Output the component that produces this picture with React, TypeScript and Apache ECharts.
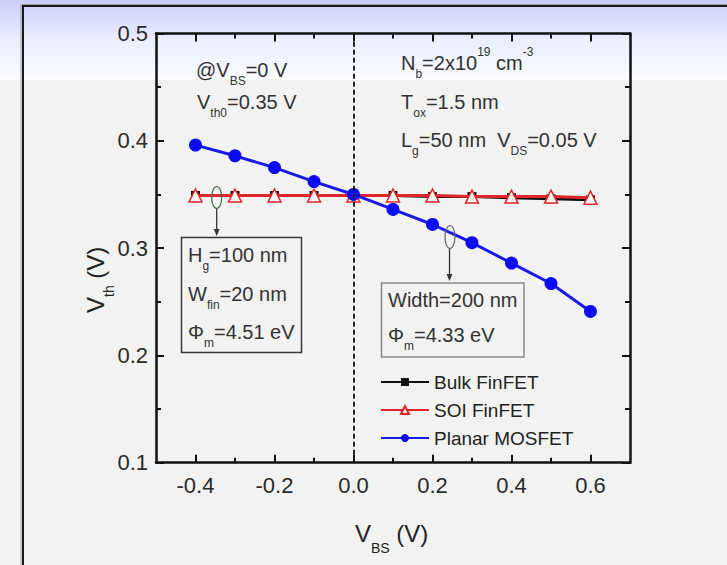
import React, { useEffect, useRef } from 'react';
import * as echarts from 'echarts';

// ---- data ----
const vbs = [-0.4, -0.3, -0.2, -0.1, 0.0, 0.1, 0.2, 0.3, 0.4, 0.5, 0.6];
const bulkFinFET = [0.349, 0.349, 0.349, 0.349, 0.349, 0.349, 0.348, 0.348, 0.347, 0.346, 0.345];
const soiFinFET = [0.349, 0.349, 0.349, 0.349, 0.349, 0.349, 0.349, 0.348, 0.348, 0.348, 0.347];
const planarMOSFET = [0.396, 0.386, 0.375, 0.362, 0.35, 0.336, 0.322, 0.305, 0.286, 0.267, 0.241];
const seriesNames = ['Bulk FinFET', 'SOI FinFET', 'Planar MOSFET'];
const xMajorTicks = [-0.4, -0.2, 0.0, 0.2, 0.4, 0.6];
const xMinorTicks = [-0.3, -0.1, 0.1, 0.3, 0.5];
const yTickLabels = ['0.1', '0.2', '0.3', '0.4', '0.5'];

const FONT = "'Liberation Sans', Arial, sans-serif";

type Seg = { t: string; k?: 'sub' | 'sup' };

let ctx: CanvasRenderingContext2D | null = null;
function measure(t: string, fs: number): number {
  if (!ctx) ctx = document.createElement('canvas').getContext('2d');
  ctx!.font = `${fs}px ${FONT}`;
  return ctx!.measureText(t).width;
}

function richLine(
  x0: number,
  y0: number,
  segs: Seg[],
  main: number,
  small: number,
  subDy: number,
  supDy: number,
  color: string
): any[] {
  let x = x0;
  const els: any[] = [];
  for (const s of segs) {
    const fs = s.k ? small : main;
    const dy = s.k === 'sub' ? subDy : s.k === 'sup' ? supDy : 0;
    els.push({
      type: 'text',
      x,
      y: y0 + dy,
      style: {
        text: s.t,
        fontSize: fs,
        fontFamily: FONT,
        fill: color,
        align: 'left',
        verticalAlign: 'middle',
      },
    });
    x += measure(s.t, fs);
  }
  return els;
}

const ANN = '#333333';

function buildGraphic(): any[] {
  const g: any[] = [];
  // header gradient band
  g.push({
    type: 'rect',
    z: -100,
    shape: { x: 0, y: 0, width: 727, height: 80 },
    style: {
      fill: new echarts.graphic.LinearGradient(0, 0, 0, 1, [
        { offset: 0, color: '#cdcdfb' },
        { offset: 0.5, color: '#eaeefe' },
        { offset: 1, color: '#fbfbff' },
      ]),
    },
  });
  // frame
  g.push({
    type: 'rect',
    z: -50,
    shape: { x: 21, y: 4.5, width: 800, height: 700 },
    style: { fill: 'none', stroke: '#9a9a9a', lineWidth: 1 },
  });
  g.push({
    type: 'rect',
    z: -50,
    shape: { x: 23, y: 6, width: 800, height: 700 },
    style: { fill: 'none', stroke: '#1a1a1a', lineWidth: 2 },
  });

  // annotations top-left
  g.push(
    ...richLine(196, 70, [{ t: '@V' }, { t: 'BS', k: 'sub' }, { t: '=0 V' }], 20, 12, 11, -10, ANN)
  );
  g.push(
    ...richLine(197, 102, [{ t: 'V' }, { t: 'th0', k: 'sub' }, { t: '=0.35 V' }], 20, 12, 11, -10, ANN)
  );
  // top-right
  g.push(
    ...richLine(
      401,
      63,
      [{ t: 'N' }, { t: 'b', k: 'sub' }, { t: '=2x10' }, { t: '19', k: 'sup' }, { t: ' cm' }, { t: '-3', k: 'sup' }],
      20,
      12,
      11,
      -11,
      ANN
    )
  );
  g.push(...richLine(401, 102, [{ t: 'T' }, { t: 'ox', k: 'sub' }, { t: '=1.5 nm' }], 20, 12, 11, -10, ANN));
  g.push(
    ...richLine(
      401,
      140,
      [{ t: 'L' }, { t: 'g', k: 'sub' }, { t: '=50 nm  V' }, { t: 'DS', k: 'sub' }, { t: '=0.05 V' }],
      20,
      12,
      11,
      -10,
      ANN
    )
  );

  // box 1
  g.push({
    type: 'rect',
    shape: { x: 181.5, y: 237.5, width: 120, height: 115 },
    style: { fill: 'none', stroke: '#3a3a3a', lineWidth: 1.5 },
  });
  g.push(...richLine(188, 255, [{ t: 'H' }, { t: 'g', k: 'sub' }, { t: '=100 nm' }], 20, 12, 11, -10, ANN));
  g.push(...richLine(188, 294, [{ t: 'W' }, { t: 'fin', k: 'sub' }, { t: '=20 nm' }], 20, 12, 11, -10, ANN));
  g.push(...richLine(188, 332, [{ t: 'Φ' }, { t: 'm', k: 'sub' }, { t: '=4.51 eV' }], 20, 12, 11, -10, ANN));

  // box 2
  g.push({
    type: 'rect',
    shape: { x: 381.5, y: 283, width: 142.5, height: 74 },
    style: { fill: 'none', stroke: '#8a8a8a', lineWidth: 1.5 },
  });
  g.push(...richLine(388, 300, [{ t: 'Width=200 nm' }], 20, 12, 11, -10, ANN));
  g.push(...richLine(388, 335, [{ t: 'Φ' }, { t: 'm', k: 'sub' }, { t: '=4.33 eV' }], 20, 12, 11, -10, ANN));

  // ellipses + arrows
  g.push({
    type: 'ellipse',
    z: 20,
    shape: { cx: 216.7, cy: 197.5, rx: 5, ry: 11 },
    style: { fill: 'none', stroke: '#3f6e3f', lineWidth: 1.2 },
  });
  g.push({
    type: 'line',
    shape: { x1: 216.7, y1: 208.5, x2: 216.7, y2: 230 },
    style: { stroke: '#333', lineWidth: 1.3 },
  });
  g.push({
    type: 'polygon',
    shape: { points: [[213.7, 229], [219.7, 229], [216.7, 236]] },
    style: { fill: '#333' },
  });
  g.push({
    type: 'ellipse',
    z: 20,
    shape: { cx: 450, cy: 237, rx: 5, ry: 11.5 },
    style: { fill: 'none', stroke: '#666', lineWidth: 1.2 },
  });
  g.push({
    type: 'line',
    shape: { x1: 449.5, y1: 248.5, x2: 449.5, y2: 275 },
    style: { stroke: '#333', lineWidth: 1.3 },
  });
  g.push({
    type: 'polygon',
    shape: { points: [[446.5, 274], [452.5, 274], [449.5, 281]] },
    style: { fill: '#333' },
  });

  // x axis title
  g.push(...richLine(355, 533, [{ t: 'V' }, { t: 'BS', k: 'sub' }, { t: ' (V)' }], 24, 14, 15, -10, '#222'));
  // y axis title (rotated)
  g.push({
    type: 'group',
    x: 95.5,
    y: 313,
    rotation: Math.PI / 2,
    children: richLine(0, 0, [{ t: 'V' }, { t: 'th', k: 'sub' }, { t: ' (V)' }], 24, 14, 13, -10, '#222'),
  });
  return g;
}

const AX = '#111';

export default function App() {
  const ref = useRef<HTMLDivElement>(null);
  useEffect(() => {
    if (!ref.current) return;
    const chart = echarts.init(ref.current, undefined, { renderer: 'svg' });
    const pts = (ys: number[]) => vbs.map((x, i) => [x, ys[i]]);
    const baseX = {
      type: 'value',
      min: -0.5,
      max: 0.7,
      splitLine: { show: false },
    };
    chart.setOption({
      animation: false,
      backgroundColor: '#f2f2f2',
      textStyle: { fontFamily: FONT },
      grid: { left: 156, right: 97, top: 33.5, bottom: 102.3, containLabel: false },
      legend: {
        data: seriesNames,
        orient: 'vertical',
        left: 380,
        top: 372,
        itemWidth: 48,
        itemHeight: 10,
        itemGap: 8,
        padding: 0,
        textStyle: { fontSize: 19, fontFamily: FONT, color: '#222', lineHeight: 20 },
      },
      xAxis: [
        {
          ...baseX,
          position: 'bottom',
          axisLine: { show: true, onZero: false, lineStyle: { color: AX, width: 2.5 } },
          axisTick: { show: true, inside: true, length: 8, customValues: xMajorTicks, lineStyle: { color: AX, width: 2 } },
          axisLabel: {
            show: true,
            customValues: xMajorTicks,
            margin: 12,
            fontSize: 22,
            fontFamily: FONT,
            color: '#2a2a2a',
            formatter: (v: number) => v.toFixed(1),
          },
        },
        {
          ...baseX,
          position: 'bottom',
          axisLine: { show: false, onZero: false },
          axisTick: { show: true, inside: true, length: 5, customValues: xMinorTicks, lineStyle: { color: AX, width: 2 } },
          axisLabel: { show: false },
        },
        {
          ...baseX,
          position: 'top',
          axisLine: { show: true, onZero: false, lineStyle: { color: AX, width: 2.5 } },
          axisTick: { show: true, inside: true, length: 8, customValues: xMajorTicks, lineStyle: { color: AX, width: 2 } },
          axisLabel: { show: false },
        },
        {
          ...baseX,
          position: 'top',
          axisLine: { show: false, onZero: false },
          axisTick: { show: true, inside: true, length: 5, customValues: xMinorTicks, lineStyle: { color: AX, width: 2 } },
          axisLabel: { show: false },
        },
      ],
      yAxis: [
        {
          type: 'value',
          min: 0.1,
          max: 0.5,
          interval: 0.1,
          position: 'left',
          splitLine: { show: false },
          axisLine: { show: true, onZero: false, lineStyle: { color: AX, width: 2.5 } },
          axisTick: { show: true, inside: true, length: 8, lineStyle: { color: AX, width: 2 } },
          minorTick: { show: true, splitNumber: 2, length: 5, lineStyle: { color: AX, width: 2 } },
          axisLabel: {
            margin: 8,
            fontSize: 22,
            fontFamily: FONT,
            color: '#2a2a2a',
            formatter: (v: number) => {
              const s = v.toFixed(1);
              return yTickLabels.includes(s) ? s : '';
            },
          },
        },
        {
          type: 'value',
          min: 0.1,
          max: 0.5,
          interval: 0.1,
          position: 'right',
          splitLine: { show: false },
          axisLine: { show: true, onZero: false, lineStyle: { color: AX, width: 2.5 } },
          axisTick: { show: true, inside: true, length: 8, lineStyle: { color: AX, width: 2 } },
          minorTick: { show: true, splitNumber: 2, length: 5, lineStyle: { color: AX, width: 2 } },
          axisLabel: { show: false },
        },
      ],
      series: [
        {
          name: seriesNames[0],
          type: 'line',
          xAxisIndex: 0,
          yAxisIndex: 0,
          data: pts(bulkFinFET),
          symbol: 'rect',
          symbolSize: 9,
          itemStyle: { color: '#111' },
          lineStyle: { color: '#111', width: 3 },
          z: 2,
        },
        {
          name: seriesNames[1],
          type: 'line',
          xAxisIndex: 0,
          yAxisIndex: 0,
          data: pts(soiFinFET),
          symbol: 'triangle',
          symbolSize: 13,
          itemStyle: { color: '#fff6f2', borderColor: '#e0262a', borderWidth: 1.5 },
          lineStyle: { color: '#e0262a', width: 3 },
          z: 3,
        },
        {
          name: seriesNames[2],
          type: 'line',
          xAxisIndex: 0,
          yAxisIndex: 0,
          data: pts(planarMOSFET),
          symbol: 'circle',
          symbolSize: 13,
          itemStyle: { color: '#0c0cf0' },
          lineStyle: { color: '#1a1ae6', width: 3 },
          z: 4,
          markLine: {
            silent: true,
            symbol: 'none',
            label: { show: false },
            lineStyle: { color: '#111', type: [5, 3], width: 1.8 },
            data: [{ xAxis: 0 }],
          },
        },
      ],
      graphic: buildGraphic(),
    });
    return () => chart.dispose();
  }, []);
  return (
    <div
      ref={ref}
      style={{ position: 'fixed', left: 0, top: 0, width: 727, height: 565 }}
    />
  );
}
